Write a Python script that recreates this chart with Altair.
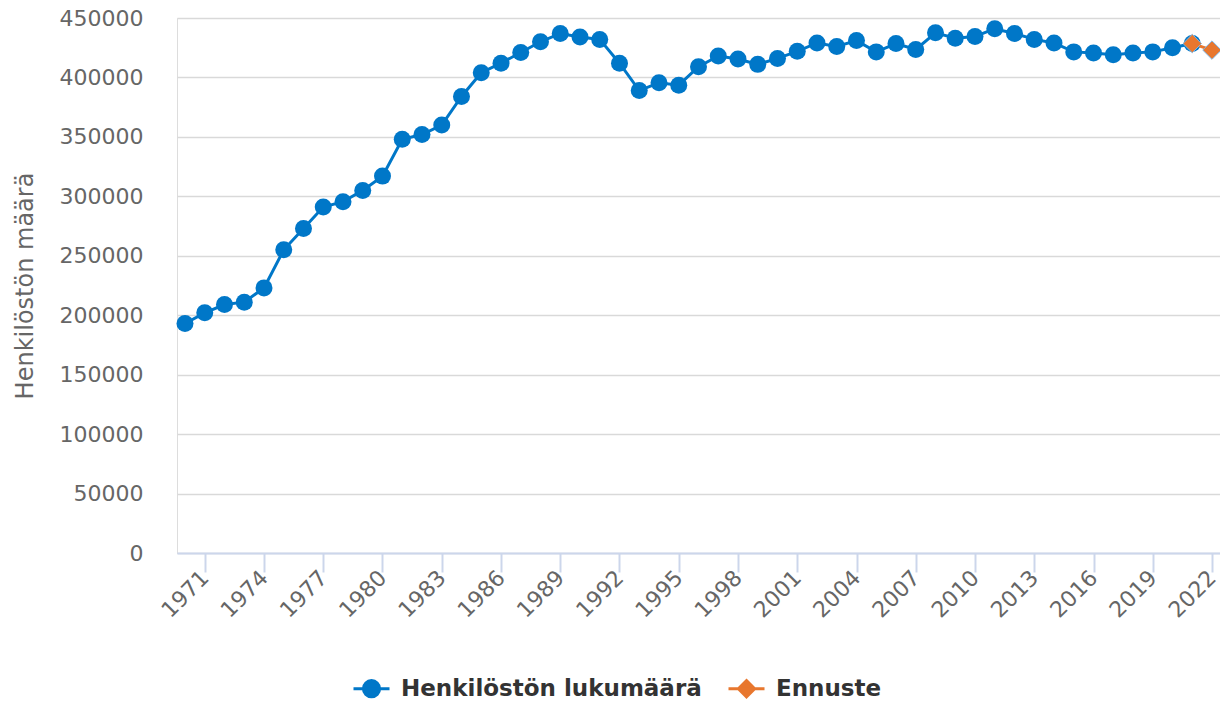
import altair as alt
import pandas as pd

years = list(range(1970, 2022))  # blue series 1970..2021
staff = [
    193000, 202000, 209000, 211000, 223000, 255000, 273000, 291000, 295500, 305000,
    317000, 348000, 352000, 360000, 384000, 404000, 412000, 421000, 430000, 437000,
    434000, 432000, 412000, 389000, 395500, 393500, 409000, 418000, 415500, 411000,
    416000, 422000, 429000, 426000, 431000, 421500, 428500, 423500, 437500, 433000,
    434500, 441000, 437000, 432000, 429000, 421500, 420500, 419000, 420500, 421500,
    425000, 428500,
]
forecast_years = [2021, 2022]
forecast = [428500, 423000]

series_names = ["Henkilöstön lukumäärä", "Ennuste"]
series_colors = ["#0077C8", "#E8772E"]
x_ticks = list(range(1971, 2023, 3))
y_ticks = list(range(0, 450001, 50000))

df_main = pd.DataFrame({"year": years, "value": staff, "series": series_names[0]})
df_fc = pd.DataFrame({"year": forecast_years, "value": forecast, "series": series_names[1]})
df_all = pd.concat([df_main, df_fc], ignore_index=True)

FONT = "DejaVu Sans"

x_enc = alt.X(
    "year:Q",
    scale=alt.Scale(domain=[1969.595, 2022.405], nice=False, zero=False),
    axis=alt.Axis(
        values=x_ticks, format="d", title=None, grid=False,
        labelAngle=-45, labelAlign="right", labelBaseline="middle",
        labelFontSize=22, labelColor="#666666", labelFont=FONT,
        labelPadding=2, labelOverlap=False,
        domainColor="#ccd6eb", domainWidth=2, tickColor="#ccd6eb",
        tickWidth=2, tickSize=19,
    ),
)
y_enc = alt.Y(
    "value:Q",
    scale=alt.Scale(domain=[0, 450000], nice=False),
    axis=alt.Axis(
        values=y_ticks, format="d", title="Henkilöstön määrä",
        grid=True, gridColor="#d9d9d9", gridWidth=1.5,
        domain=False, ticks=False, labelPadding=34,
        labelFontSize=22, labelColor="#666666", labelFont=FONT,
        titleFontSize=24, titleColor="#666666", titleFont=FONT,
        titleFontWeight="normal", titleX=-152, titleY=267.5,
        titleAngle=-90, titleAlign="center", titleBaseline="middle",
    ),
)

blue_line = alt.Chart(df_main).mark_line(color=series_colors[0], strokeWidth=3).encode(x=x_enc, y=y_enc)
blue_pts = alt.Chart(df_main).mark_point(
    filled=True, shape="circle", size=289, color=series_colors[0], opacity=1
).encode(x="year:Q", y="value:Q")
fc_line = alt.Chart(df_fc).mark_line(color=series_colors[1], strokeWidth=3).encode(x="year:Q", y="value:Q")
fc_pts = alt.Chart(df_fc).mark_point(
    filled=True, shape="diamond", size=340, fill=series_colors[1],
    stroke="#7fb4e0", strokeWidth=1, opacity=1
).encode(x="year:Q", y="value:Q")

circle_line = "M-1,0L1,0M0.45,0A0.45,0.45 0 1,1 -0.45,0A0.45,0.45 0 1,1 0.45,0Z"
diamond_line = "M-1,0L1,0M0,-0.45L0.45,0L0,0.45L-0.45,0Z"

leg = dict(
    orient="none", legendX=175, legendY=651, direction="horizontal", title=None,
    labelFont=FONT, labelFontSize=23, labelFontWeight="bold", labelColor="#333333",
    labelLimit=0,
    symbolSize=1296, symbolStrokeWidth=3, symbolOpacity=1,
    columnPadding=20, labelOffset=10,
)
legend_layer = alt.Chart(df_all).transform_filter("false").mark_point(
    filled=True, opacity=1
).encode(
    x="year:Q", y="value:Q",
    fill=alt.Fill("series:N", scale=alt.Scale(domain=series_names, range=series_colors),
                  legend=alt.Legend(**leg)),
    stroke=alt.Stroke("series:N", scale=alt.Scale(domain=series_names, range=series_colors),
                      legend=alt.Legend(**leg)),
    shape=alt.Shape("series:N", scale=alt.Scale(domain=series_names, range=[circle_line, diamond_line]),
                    legend=alt.Legend(**leg)),
)

chart = alt.layer(blue_line, blue_pts, fc_line, fc_pts, legend_layer).properties(
    width=1043, height=535,
    autosize=alt.AutoSizeParams(type="none"),
    padding={"left": 169, "top": 10, "right": 0, "bottom": 150},
).configure_view(stroke=None).configure(font=FONT)

chart.save("out.html", embed_options={"renderer": "svg", "actions": False})
